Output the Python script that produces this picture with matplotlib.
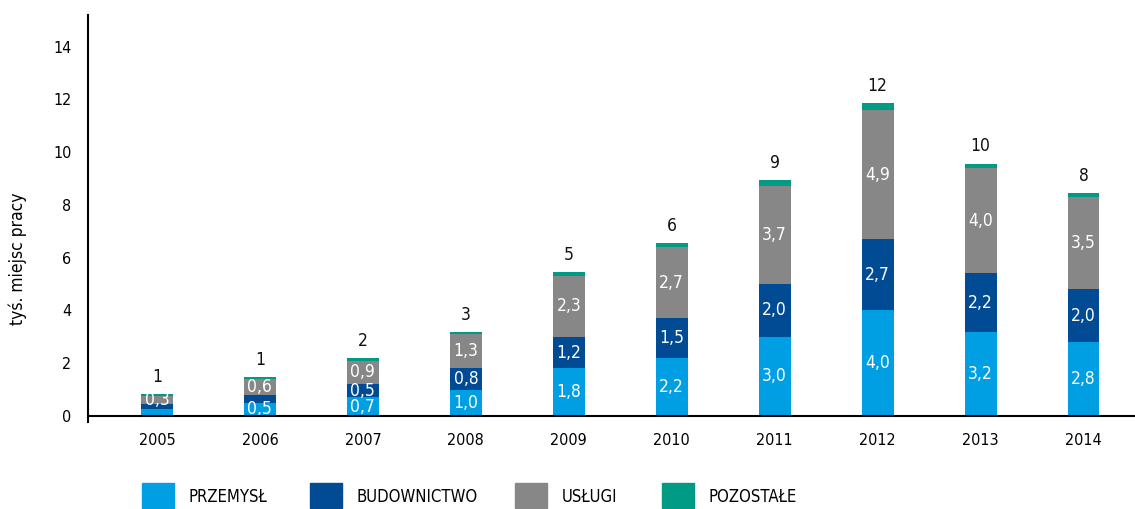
import matplotlib
matplotlib.use("Agg")
import matplotlib.pyplot as plt
import numpy as np
from matplotlib.patches import Rectangle

plt.rcParams['font.family'] = ['DejaVu Sans']
plt.rcParams['font.stretch'] = 'condensed'

years = ['2005', '2006', '2007', '2008', '2009', '2010', '2011', '2012', '2013', '2014']
przemysl = [0.25, 0.5, 0.7, 1.0, 1.8, 2.2, 3.0, 4.0, 3.2, 2.8]
budownictwo = [0.2, 0.3, 0.5, 0.8, 1.2, 1.5, 2.0, 2.7, 2.2, 2.0]
uslugi = [0.3, 0.6, 0.9, 1.3, 2.3, 2.7, 3.7, 4.9, 4.0, 3.5]
pozostale = [0.07, 0.07, 0.08, 0.08, 0.15, 0.15, 0.25, 0.25, 0.17, 0.15]
total_labels = ['1', '1', '2', '3', '5', '6', '9', '12', '10', '8']
przemysl_labels = ['', '0,5', '0,7', '1,0', '1,8', '2,2', '3,0', '4,0', '3,2', '2,8']
budownictwo_labels = ['', '', '0,5', '0,8', '1,2', '1,5', '2,0', '2,7', '2,2', '2,0']
uslugi_labels = ['0,3', '0,6', '0,9', '1,3', '2,3', '2,7', '3,7', '4,9', '4,0', '3,5']
series_names = ['PRZEMYSŁ', 'BUDOWNICTWO', 'USŁUGI', 'POZOSTAŁE']
colors = ['#009FE3', '#004B93', '#878787', '#009B84']
yticks = [0, 2, 4, 6, 8, 10, 12, 14]

fig = plt.figure(figsize=(11.35, 5.09), dpi=100)
ax = fig.add_axes([88/1135, (509-422)/509, 1 - 88/1135, (422-15)/509])

x = np.arange(len(years))
w = 0.31
series = [przemysl, budownictwo, uslugi, pozostale]
labels = [przemysl_labels, budownictwo_labels, uslugi_labels, None]
bottom = np.zeros(len(years))
for vals, col, labs in zip(series, colors, labels):
    vals = np.array(vals)
    ax.bar(x, vals, w, bottom=bottom, color=col, zorder=2)
    if labs is not None:
        for i, t in enumerate(labs):
            if t:
                ax.text(x[i], bottom[i] + vals[i] / 2, t, ha='center', va='center',
                        color='white', fontsize=12.5, zorder=3)
    bottom = bottom + vals

for i, t in enumerate(total_labels):
    ax.annotate(t, (x[i], bottom[i]), xytext=(0, 6), textcoords='offset points',
                ha='center', va='bottom', fontsize=12.5, color='#111111')

ax.set_xlim(-0.67, 9.5)
ax.set_ylim(-0.23, 15.2)
ax.axhline(0, color='black', lw=1.5, zorder=4)
ax.set_yticks(yticks)
ax.set_yticklabels([str(v) for v in yticks], fontsize=11.5)
ax.set_xticks(x)
ax.set_xticklabels(years, fontsize=11.5)
ax.tick_params(axis='both', length=0)
ax.tick_params(axis='y', pad=12)
ax.tick_params(axis='x', pad=8)
for s in ['top', 'right', 'bottom']:
    ax.spines[s].set_visible(False)
ax.spines['left'].set_linewidth(1.5)
ax.set_ylabel('tyś. miejsc pracy', fontsize=12.5)
ax.yaxis.set_label_coords(-0.058, 0.40)

# legend
patch_x = [142, 310, 515, 662]
text_x = [189, 357, 562, 708]
for px, tx, col, name in zip(patch_x, text_x, colors, series_names):
    fig.patches.append(Rectangle((px/1135, (509-508)/509), 32/1135, 25/509,
                                 transform=fig.transFigure, color=col))
    fig.text(tx/1135, (509-497)/509, name, fontsize=12, va='center', ha='left')

fig.savefig('out.png', dpi=100)
